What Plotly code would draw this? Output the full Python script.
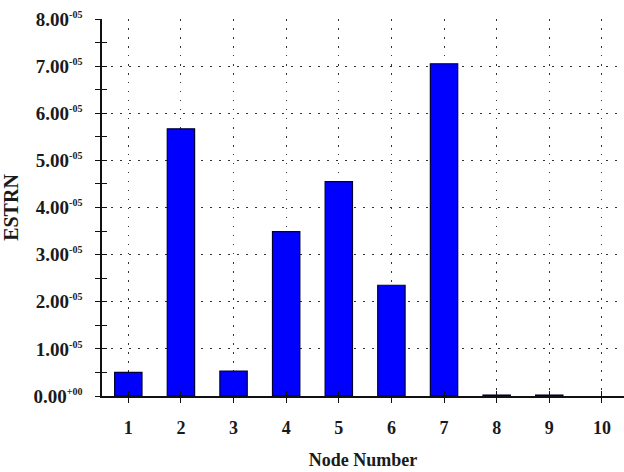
import plotly.graph_objects as go

nodes = [1, 2, 3, 4, 5, 6, 7, 8, 9, 10]
estrn = [5.0e-6, 5.67e-5, 5.3e-6, 3.49e-5, 4.55e-5, 2.35e-5, 7.05e-5, 2e-7, 2e-7, 0.0]
y_tickvals = [0, 1e-5, 2e-5, 3e-5, 4e-5, 5e-5, 6e-5, 7e-5, 8e-5]
y_minorvals = [0.5e-5, 1.5e-5, 2.5e-5, 3.5e-5, 4.5e-5, 5.5e-5, 6.5e-5, 7.5e-5]
y_mantissa = ["0.00", "1.00", "2.00", "3.00", "4.00", "5.00", "6.00", "7.00", "8.00"]
y_exponent = ["+00", "-05", "-05", "-05", "-05", "-05", "-05", "-05", "-05"]
x_ticktext = [str(n) for n in nodes]

y_ticktext = [f"{m}<sup><span style='font-size:10px'>{e}</span></sup>"
              for m, e in zip(y_mantissa, y_exponent)]

font_family = "Liberation Serif"
XR = [0.5, 10.42]
YR = [0, 8e-5]
GRID_DASH = "1.5px,7.5px"

fig = go.Figure()
fig.add_trace(go.Bar(x=nodes, y=estrn, width=0.52,
                     marker=dict(color="#0000FF",
                                 line=dict(color="#000033",
                                           width=[1.2 if v > 0 else 0 for v in estrn]))))
# invisible trace for overlay axes (crossing ticks)
fig.add_trace(go.Scatter(x=nodes, y=estrn, mode="none", xaxis="x2", yaxis="y2",
                         showlegend=False, hoverinfo="skip"))

fig.update_layout(
    width=624, height=472,
    margin=dict(l=102, r=0, t=19, b=76),
    paper_bgcolor="white", plot_bgcolor="white",
    showlegend=False,
    font=dict(family=font_family, color="#1a1a1a"),
    xaxis=dict(
        range=XR, tickmode="array", tickvals=nodes, ticktext=x_ticktext,
        ticks="outside", ticklen=5, tickwidth=1.3, tickcolor="#111",
        ticklabelstandoff=10,
        showline=True, linecolor="#111", linewidth=1.5,
        showgrid=True, gridcolor="#333", gridwidth=1.2, griddash=GRID_DASH,
        zeroline=False, automargin=False,
        tickfont=dict(family=font_family, size=18, color="#1a1a1a", weight="bold"),
        title=dict(text="<b>Node Number</b>", font=dict(family=font_family, size=18), standoff=16),
        fixedrange=True,
    ),
    yaxis=dict(
        range=YR, tickmode="array", tickvals=y_tickvals, ticktext=y_ticktext,
        ticks="outside", ticklen=5, tickwidth=1.3, tickcolor="#111",
        ticklabelstandoff=9,
        minor=dict(tickmode="array", tickvals=y_minorvals,
                   ticks="outside", ticklen=5, tickwidth=1.3, tickcolor="#111", showgrid=False),
        showline=True, linecolor="#111", linewidth=1.5,
        showgrid=True, gridcolor="#333", gridwidth=1.2, griddash=GRID_DASH,
        zeroline=False, automargin=False,
        tickfont=dict(family=font_family, size=19, color="#1a1a1a", weight="bold"),
        title=dict(text="<b>ESTRN</b>", font=dict(family=font_family, size=20), standoff=14),
        fixedrange=True,
    ),
    xaxis2=dict(
        range=XR, overlaying="x", side="bottom", tickmode="array", tickvals=nodes,
        ticks="inside", ticklen=5, tickwidth=1.3, tickcolor="#111",
        showticklabels=False, showgrid=False, zeroline=False, showline=False,
        automargin=False,
    ),
    yaxis2=dict(
        range=YR, overlaying="y", side="left", tickmode="array", tickvals=y_tickvals,
        ticks="inside", ticklen=5, tickwidth=1.3, tickcolor="#111",
        minor=dict(tickmode="array", tickvals=y_minorvals,
                   ticks="inside", ticklen=5, tickwidth=1.3, tickcolor="#111", showgrid=False),
        showticklabels=False, showgrid=False, zeroline=False, showline=False,
        automargin=False,
    ),
)

fig.write_html("out.html", config={"displayModeBar": False},
               post_script="document.body.style.margin='0';")
